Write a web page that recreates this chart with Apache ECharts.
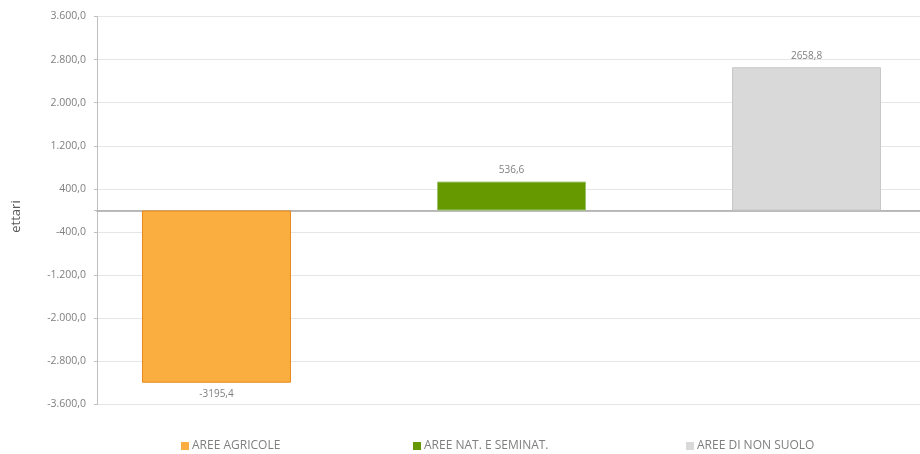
<!DOCTYPE html>
<html>
<head>
<meta charset="utf-8">
<script src="https://cdn.jsdelivr.net/npm/echarts@6/dist/echarts.min.js"></script>
<style>html,body{margin:0;padding:0;background:#fff}#c{width:920px;height:454px}</style>
</head>
<body>
<div id="c"></div>
<script>
const seriesNames = ['AREE AGRICOLE', 'AREE NAT. E SEMINAT.', 'AREE DI NON SUOLO'];
const seriesValues = [-3195.4, 536.6, 2658.8];
const seriesColors = ['#FBAE40', '#669900', '#D9D9D9'];
const borderColors = ['#E8891C', '#9BC46A', '#C8C8C8'];
const yTicks = [-3600, -2800, -2000, -1200, -400, 400, 1200, 2000, 2800, 3600];
const yTickMarks = [-3600, -2800, -2000, -1200, -400, 0, 400, 1200, 2000, 2800, 3600];
const legendLefts = [181, 413, 686];

const FONT = 'Open Sans';
function fmtAxis(v) {
  const neg = v < 0;
  let s = Math.abs(v).toFixed(1);
  let [i, d] = s.split('.');
  i = i.replace(/\B(?=(\d{3})+(?!\d))/g, '.');
  return (neg ? '-' : '') + i + ',' + d;
}
function fmtLabel(v) { return v.toFixed(1).replace('.', ','); }

const chart = echarts.init(document.getElementById('c'));
const series = seriesNames.map((n, k) => ({
  name: n,
  type: 'bar',
  data: [seriesValues[k]],
  barWidth: 149,
  barGap: '98%',
  itemStyle: { color: seriesColors[k], borderColor: borderColors[k], borderWidth: 1 },
  label: {
    show: true,
    position: seriesValues[k] < 0 ? 'bottom' : 'top',
    distance: 6,
    formatter: p => fmtLabel(p.value),
    color: '#7F7F7F',
    fontFamily: FONT,
    fontSize: 10
  },
  emphasis: { disabled: true },
  animation: false
}));

chart.setOption({
  animation: false,
  grid: { left: 97, width: 829, top: 16.5, bottom: 49.5, containLabel: false, outerBoundsMode: 'none' },
  legend: seriesNames.map((n, k) => ({
    data: [n],
    left: legendLefts[k],
    top: 440,
    itemWidth: 8,
    itemHeight: 8,
    itemGap: 4,
    icon: 'rect',
    padding: 0,
    selectedMode: false,
    itemStyle: { borderWidth: 0 },
    textStyle: { color: '#7F7F7F', fontFamily: FONT, fontSize: 12, padding: [0, 0, 0, -2] }
  })),
  xAxis: {
    type: 'category',
    data: [''],
    axisLine: { onZero: true, lineStyle: { color: '#A6A6A6', width: 1.5 } },
    axisTick: { show: false },
    axisLabel: { show: false },
    splitLine: { show: false }
  },
  yAxis: {
    type: 'value',
    min: -3600,
    max: 3600,
    name: 'ettari',
    nameLocation: 'middle',
    nameGap: 74,
    nameRotate: 90,
    nameTextStyle: { color: '#595959', fontFamily: FONT, fontSize: 13, padding: [0, 12, 0, 0] },
    axisLine: { show: true, lineStyle: { color: '#BFBFBF' } },
    axisTick: { show: true, customValues: yTickMarks, length: 3, lineStyle: { color: '#BFBFBF' } },
    axisLabel: {
      customValues: yTicks,
      formatter: v => fmtAxis(v),
      color: '#7F7F7F',
      fontFamily: FONT,
      fontSize: 10.5,
      margin: 11
    },
    splitLine: { show: true, lineStyle: { color: '#E6E6E6', width: 1 } }
  },
  series: series
});
</script>
</body>
</html>
